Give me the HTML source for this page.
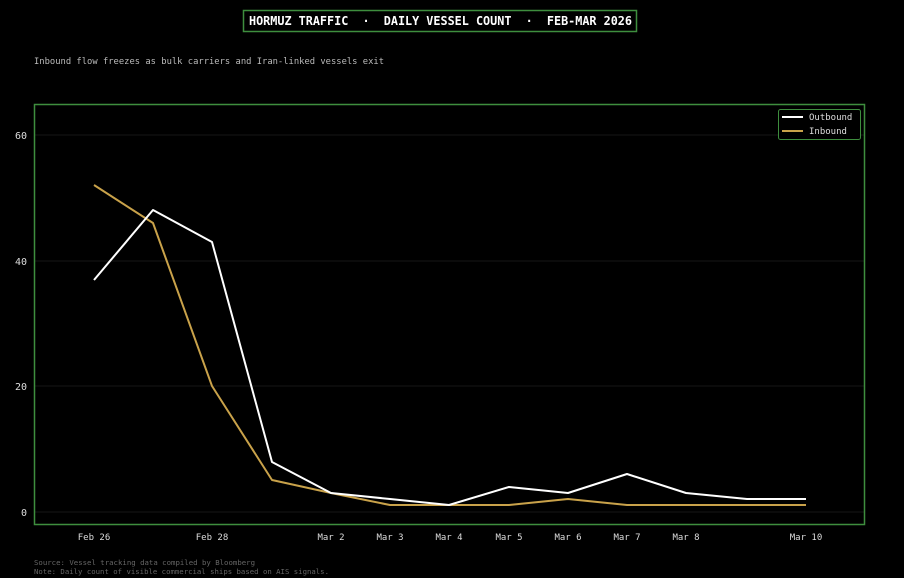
<!DOCTYPE html>
<html><head><meta charset="utf-8"><style>
body{margin:0;background:#000;width:904px;height:578px;overflow:hidden}
svg{display:block}
text{font-family:"DejaVu Sans Mono","Liberation Mono",monospace}
</style></head><body>
<svg width="904" height="578" viewBox="0 0 904 578" xmlns="http://www.w3.org/2000/svg">
<rect width="904" height="578" fill="#000"/>
<rect x="243.5" y="10.5" width="393" height="21" fill="#000" stroke="#3e8e3e" stroke-width="1.5"/>
<text x="249" y="25" fill="#fff" font-size="12" font-weight="bold" textLength="383" lengthAdjust="spacingAndGlyphs" xml:space="preserve">HORMUZ TRAFFIC  ·  DAILY VESSEL COUNT  ·  FEB-MAR 2026</text>
<text x="34" y="64" fill="#bbb" font-size="9" textLength="350" lengthAdjust="spacingAndGlyphs">Inbound flow freezes as bulk carriers and Iran-linked vessels exit</text>
<g stroke="#161616" stroke-width="1">
<line x1="35" x2="865" y1="135" y2="135"/><line x1="35" x2="865" y1="261" y2="261"/><line x1="35" x2="865" y1="386" y2="386"/><line x1="35" x2="865" y1="512" y2="512"/>
</g>
<rect x="34.5" y="104.5" width="830" height="420" fill="none" stroke="#3e8e3e" stroke-width="1.5"/>
<g fill="#ddd" font-size="10" text-anchor="end">
<text x="27" y="139">60</text><text x="27" y="265">40</text><text x="27" y="390">20</text><text x="27" y="516">0</text>
</g>
<g fill="#ddd" font-size="9" text-anchor="middle">
<text x="94" y="540">Feb 26</text><text x="212" y="540">Feb 28</text><text x="331" y="540">Mar 2</text><text x="390" y="540">Mar 3</text><text x="449" y="540">Mar 4</text><text x="509" y="540">Mar 5</text><text x="568" y="540">Mar 6</text><text x="627" y="540">Mar 7</text><text x="686" y="540">Mar 8</text><text x="806" y="540">Mar 10</text>
</g>
<polyline fill="none" stroke="#c9a24a" stroke-width="2" stroke-linejoin="round" points="94,185 153,223 212,386 272,480 331,493 390,505 449,505 509,505 568,499 627,505 686,505 747,505 806,505"/>
<polyline fill="none" stroke="#fff" stroke-width="2" stroke-linejoin="round" points="94,280 153,210 212,242 272,462 331,493 390,499 449,505 509,487 568,493 627,474 686,493 747,499 806,499"/>
<rect x="778.5" y="109.5" width="82" height="30" rx="2" fill="#000" stroke="#3e8e3e" stroke-width="1"/>
<line x1="782" x2="803" y1="117" y2="117" stroke="#fff" stroke-width="2"/>
<line x1="782" x2="803" y1="131" y2="131" stroke="#c9a24a" stroke-width="2"/>
<text x="809" y="120" fill="#ddd" font-size="9">Outbound</text>
<text x="809" y="134" fill="#ddd" font-size="9">Inbound</text>
<text x="34" y="565" fill="#666" font-size="7" textLength="221" lengthAdjust="spacingAndGlyphs">Source: Vessel tracking data compiled by Bloomberg</text>
<text x="34" y="574" fill="#666" font-size="7" textLength="295" lengthAdjust="spacingAndGlyphs">Note: Daily count of visible commercial ships based on AIS signals.</text>
</svg>
</body></html>
